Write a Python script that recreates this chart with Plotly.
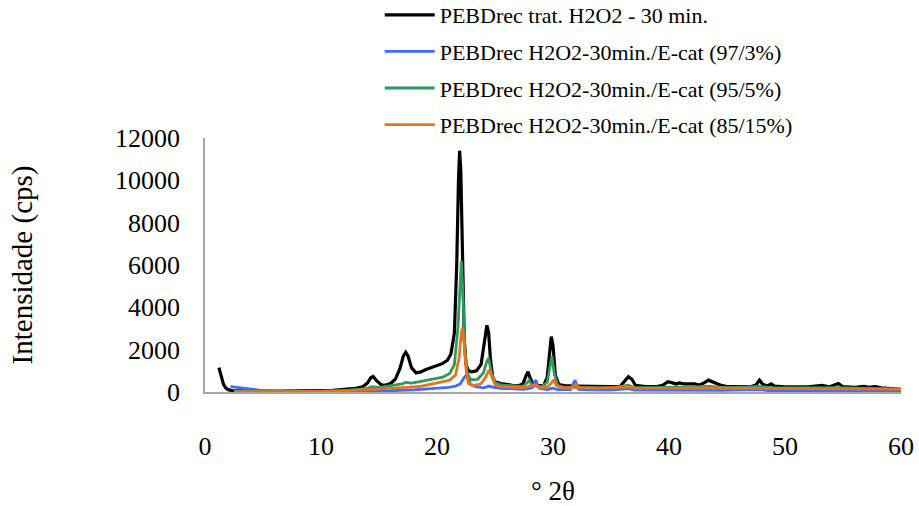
import plotly.graph_objects as go

# Diffractograms of recycled LDPE treated with H2O2 (30 min) and E-cat blends
names = [
    "PEBDrec trat. H2O2 - 30 min.",
    "PEBDrec H2O2-30min./E-cat (97/3%)",
    "PEBDrec H2O2-30min./E-cat (95/5%)",
    "PEBDrec H2O2-30min./E-cat (85/15%)",
]
colors = ["#000000", "#3d6dff", "#2e9a5e", "#e8731f"]

x_ticks = [0, 10, 20, 30, 40, 50, 60]
y_ticks = [0, 2000, 4000, 6000, 8000, 10000, 12000]

theta_trat = [1.2, 1.4, 1.6, 1.8, 2.0, 2.3, 3, 4, 5, 6, 7, 8, 9, 10, 11, 12, 13, 13.6, 14.0, 14.3,
              14.5, 14.8, 15.2, 15.6, 16.0, 16.4, 16.8, 17.1, 17.3, 17.5, 17.8, 18.2, 18.6, 19.0, 19.5,
              20.0, 20.5, 20.9, 21.2, 21.5, 21.7, 21.85, 21.95, 22.05, 22.2, 22.35, 22.5, 22.7, 23.0,
              23.4, 23.8, 24.0, 24.2, 24.3, 24.45, 24.6, 24.8, 25.0, 25.5, 26.0, 26.5, 27.0, 27.4, 27.7,
              27.85, 28.0, 28.3, 28.7, 29.2, 29.5, 29.7, 29.85, 30.0, 30.2, 30.5, 31.0, 32, 33, 34, 35,
              35.8, 36.2, 36.5, 36.8, 37.1, 38, 39, 39.5, 39.9, 40.3, 40.6, 40.9, 41.3, 41.8, 42.2, 42.6,
              43.0, 43.4, 43.8, 44.2, 44.6, 45, 46, 47, 47.5, 47.8, 48.1, 48.5, 48.8, 49.1, 50, 51, 52,
              53.2, 53.8, 54.6, 55.0, 56, 56.8, 57.2, 57.8, 58.3, 59, 60]
cps_trat = [1150, 700, 350, 180, 110, 70, 50, 40, 35, 35, 40, 45, 55, 65, 80, 110, 170, 250, 420, 680,
            730, 520, 340, 330, 400, 600, 1100, 1700, 1880, 1700, 1150, 900, 950, 1050, 1150,
            1250, 1350, 1500, 1800, 2800, 6000, 10000, 11400, 10500, 6000, 2500, 1300, 1000, 950,
            1000, 1300, 2000, 2900, 3150, 2800, 1600, 700, 480, 400, 350, 320, 300, 380, 800,
            960, 700, 350, 300, 300, 700, 2000, 2620, 2200, 800, 350, 300, 280, 260, 250, 250,
            270, 500, 720, 600, 320, 260, 260, 330, 490, 430, 380, 430, 380, 390, 380, 330,
            420, 560, 450, 380, 300, 260, 250, 250, 330, 560, 350, 290, 380, 280, 240, 230, 240,
            310, 240, 400, 250, 220, 270, 220, 250, 200, 170, 130]

theta_97 = [2.2, 2.5, 3, 4, 5, 6, 7, 8, 10, 12, 14, 16, 18, 19, 20, 21, 21.6, 22.0, 22.3, 22.5, 22.7,
            22.9, 23.3, 24.0, 24.5, 24.8, 25.5, 26.5, 27.5, 28.2, 28.5, 28.8, 29.5, 30.0, 30.4, 31.5,
            31.9, 32.2, 33, 35, 36.5, 37, 40, 43.5, 44.5, 47.8, 48.5, 52, 56, 60]
cps_97 = [250, 230, 180, 110, 70, 40, 25, 20, 20, 25, 35, 60, 100, 130, 170, 220, 280, 380, 650, 780, 600,
          350, 250, 200, 280, 230, 170, 140, 130, 200, 560, 180, 120, 180, 110, 110,
          560, 120, 100, 90, 160, 90, 80, 100, 75, 110, 70, 65, 60, 60]

theta_95 = [2.5, 4, 6, 8, 10, 12, 14, 14.4, 15, 16, 17.0, 17.3, 17.8, 18.5, 19.5, 20.5, 21.1, 21.5, 21.8,
            22.0, 22.1, 22.25, 22.4, 22.6, 22.9, 23.5, 24.0, 24.3, 24.45, 24.7, 25.0, 25.5, 26.5, 27.4,
            27.8, 27.95, 28.2, 29.0, 29.5, 29.75, 29.9, 30.1, 30.4, 31, 33, 35, 36.5, 37, 40, 43.5, 45,
            47.8, 49, 54.6, 60]
cps_95 = [40, 30, 25, 30, 40, 70, 170, 250, 220, 300, 380, 450, 420, 490, 600, 700, 880, 1300, 3000,
          5600, 6200, 4500, 2000, 900, 580, 600, 900, 1450, 1600, 900, 450, 330, 280, 270,
          450, 560, 300, 250, 450, 1300, 1700, 900, 300, 230, 200, 190, 320, 200, 220, 260, 200,
          260, 190, 210, 140]

theta_85 = [2.5, 4, 6, 8, 10, 12, 14, 16, 17.4, 18.5, 19.5, 20.5, 21.1, 21.6, 21.9, 22.1, 22.2, 22.35,
            22.5, 22.7, 23.2, 23.8, 24.2, 24.5, 24.75, 25.0, 25.5, 26.5, 27.5, 28.0, 28.5, 28.8, 29.5,
            29.9, 30.05, 30.3, 30.8, 31.7, 31.95, 32.2, 34, 36.5, 37, 40, 43.5, 48, 60]
cps_85 = [20, 15, 15, 20, 30, 50, 100, 180, 220, 260, 380, 470, 560, 800, 1600, 2800, 3050, 2300,
          1100, 400, 300, 400, 700, 1050, 700, 350, 250, 210, 200, 280, 330, 220, 220,
          450, 580, 300, 200, 200, 350, 200, 180, 240, 180, 170, 190, 170, 140]

series = [(theta_trat, cps_trat), (theta_97, cps_97), (theta_95, cps_95), (theta_85, cps_85)]

serif = "Liberation Serif"

fig = go.Figure()
for i, ((xs, ys), name, col) in enumerate(zip(series, names, colors)):
    fig.add_trace(go.Scatter(
        x=xs, y=ys, mode="lines", name=name, legendgroup=f"g{i}",
        line=dict(color=col, width=3.2 if i == 0 else 2.8),
    ))

fig.update_layout(
    width=919, height=506,
    margin=dict(l=205, r=18, t=138, b=114, autoexpand=False),
    paper_bgcolor="white", plot_bgcolor="white",
    font=dict(family=serif, color="#000000"),
    showlegend=True,
    legend=dict(
        x=0.251, y=1.567, xanchor="left", yanchor="top",
        font=dict(family=serif, size=22),
        bgcolor="rgba(0,0,0,0)", tracegroupgap=5,
        itemwidth=50, traceorder="grouped",
    ),
    xaxis=dict(
        range=[0, 60], tickvals=x_ticks, ticktext=[str(v) for v in x_ticks],
        showgrid=False, zeroline=False, automargin=False,
        showline=True, linecolor="#a6a6a6", linewidth=1.5,
        ticks="outside", ticklen=30, tickcolor="rgba(0,0,0,0)",
        tickfont=dict(family=serif, size=26),
        title=dict(text="° 2θ", font=dict(family=serif, size=27), standoff=24),
    ),
    yaxis=dict(
        range=[0, 12000], tickvals=y_ticks, ticktext=[str(v) for v in y_ticks],
        showgrid=False, zeroline=False, automargin=False,
        showline=True, linecolor="#a6a6a6", linewidth=1.5,
        ticks="outside", ticklen=18, tickcolor="rgba(0,0,0,0)",
        tickfont=dict(family=serif, size=26),
        title=dict(text="Intensidade (cps)", font=dict(family=serif, size=29), standoff=74),
    ),
)

fig.write_html("out.html")
